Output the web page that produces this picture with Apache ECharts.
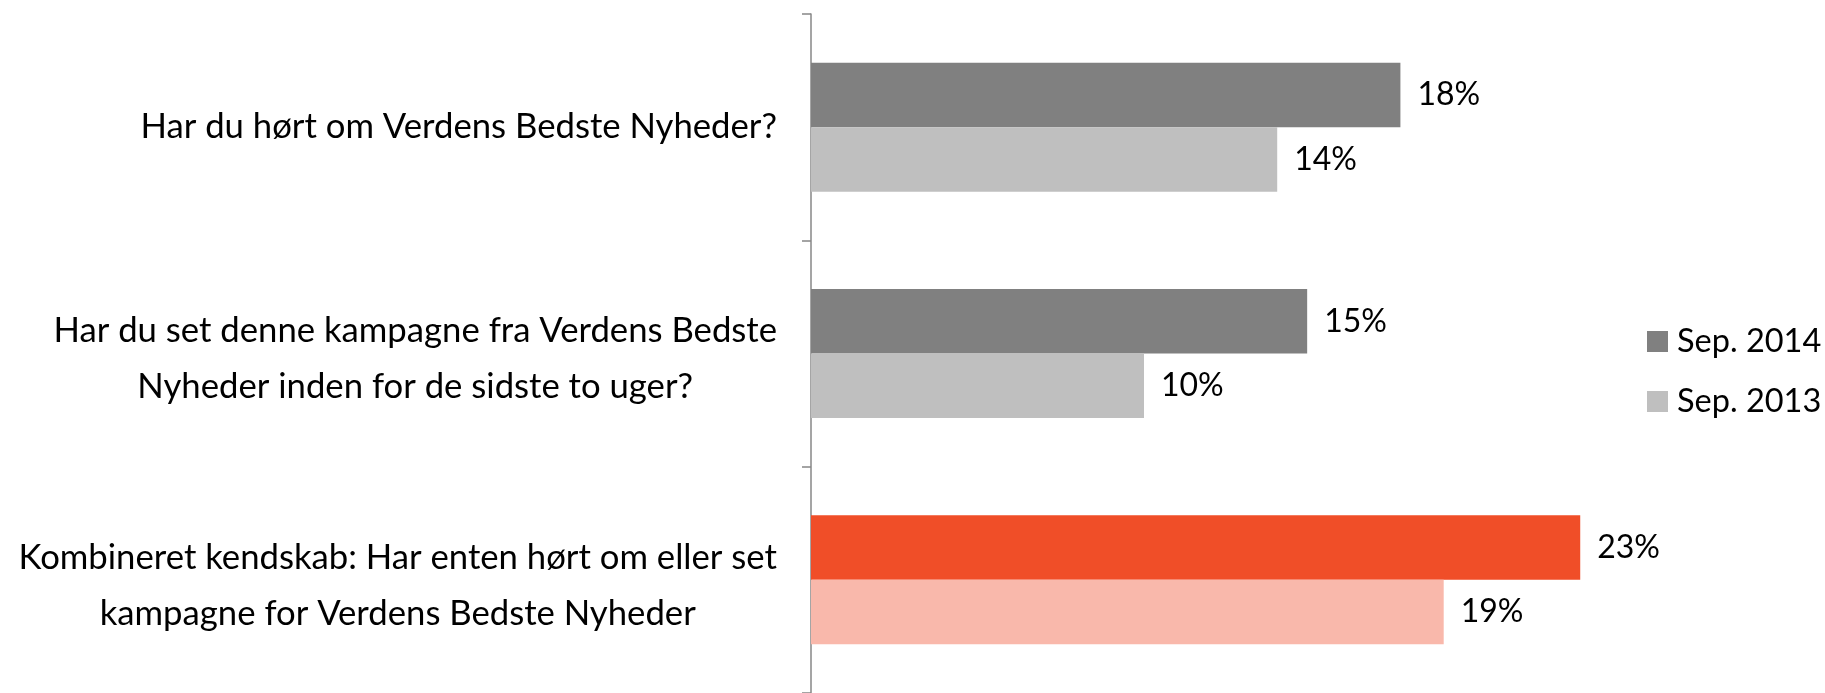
<!DOCTYPE html>
<html>
<head>
<meta charset="utf-8">
<script src="https://cdn.jsdelivr.net/npm/echarts@6/dist/echarts.min.js"></script>
<style>html,body{margin:0;padding:0;background:#fff;}#c{width:1825px;height:693px;}</style>
</head>
<body>
<div id="c"></div>
<script>
const categories = [
  "Har du hørt om Verdens Bedste Nyheder?",
  "Har du set denne kampagne fra Verdens Bedste\nNyheder inden for de sidste to uger?",
  "Kombineret kendskab: Har enten hørt om eller set\nkampagne for Verdens Bedste Nyheder"
];
const seriesNames = ["Sep. 2014", "Sep. 2013"];
const sep2014 = [17.7, 14.9, 23.1];
const sep2013 = [14.0, 10.0, 19.0];

const FONT = "Lato";
const FS = 34.7;
const FSV = 32;
const FSL = 32.5;
const dark = "#808080", light = "#BFBFBF", red = "#F04E28", pink = "#F9B8AB";

const chart = echarts.init(document.getElementById('c'), null, {renderer: 'canvas'});
const labelCfg = {
  show: true, position: 'right', distance: 17,
  color: '#000', fontFamily: FONT, fontSize: FSV,
  formatter: p => Math.round(p.value) + '%'
};
chart.setOption({
  animation: false,
  backgroundColor: '#fff',
  grid: {left: 811, right: 15, top: 14, bottom: -5, containLabel: false},
  xAxis: {type: 'value', min: 0, max: 30, show: false},
  yAxis: {
    type: 'category', inverse: true,
    data: categories.map(c => c.indexOf('\n') >= 0
      ? {value: c, textStyle: {padding: [11, 0, 0, 0]}}
      : c),
    axisLine: {show: true, lineStyle: {color: '#878787', width: 1.5}},
    axisTick: {show: true, length: 9, lineStyle: {color: '#878787', width: 1.5}},
    axisLabel: {
      margin: 34, color: '#000', fontFamily: FONT, fontSize: FS,
      formatter: v => v.split('\n').map(l => '{c|' + l + '}').join('\n'),
      rich: {c: {align: 'center', fontFamily: FONT, fontSize: FS, color: '#000', lineHeight: 56}}
    },
    splitLine: {show: false}
  },
  legend: {
    orient: 'vertical', left: 1642, top: 320,
    icon: 'rect', itemWidth: 21, itemHeight: 21, itemGap: 27,
    textStyle: {fontFamily: FONT, fontSize: FSL, color: '#000', padding: [0,0,0,4]},
    data: seriesNames
  },
  series: [
    {name: seriesNames[0], type: 'bar', barGap: '0%', barCategoryGap: '43%',
     itemStyle: {color: dark},
     data: sep2014.map((v, i) => i === 2 ? {value: v, itemStyle: {color: red}} : v),
     label: labelCfg},
    {name: seriesNames[1], type: 'bar', barGap: '0%', barCategoryGap: '43%',
     itemStyle: {color: light},
     data: sep2013.map((v, i) => i === 2 ? {value: v, itemStyle: {color: pink}} : v),
     label: labelCfg}
  ]
});
</script>
</body>
</html>
